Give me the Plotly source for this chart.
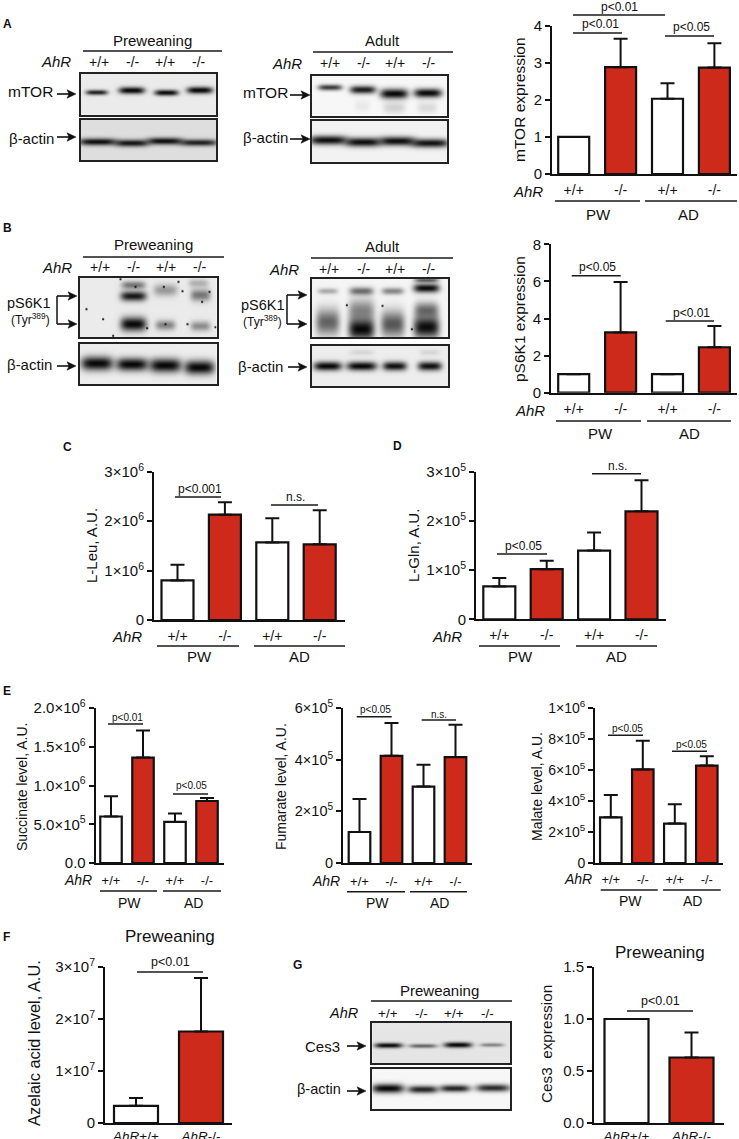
import numpy as np
import plotly.graph_objects as go

W, H = 739, 1139
FONT = "Liberation Sans"
RED = "#CD2A1C"
WHITE = "#FFFFFF"
AHR = ["+/+", "-/-", "+/+", "-/-"]
KO = [WHITE, RED, WHITE, RED]
AZ_LABELS = ["<i>AhR</i>+/+", "<i>AhR</i>-/-"]

# ---------- bar data ----------
mtor_vals = [1.0, 2.88, 2.03, 2.87]
mtor_errs = [0, 0.77, 0.42, 0.66]
ps6k1_vals = [1.0, 3.25, 1.0, 2.45]
ps6k1_errs = [0, 2.72, 0, 1.15]
leu_vals = [0.80e6, 2.13e6, 1.57e6, 1.53e6]
leu_errs = [0.32e6, 0.25e6, 0.49e6, 0.69e6]
gln_vals = [0.67e5, 1.02e5, 1.40e5, 2.20e5]
gln_errs = [0.17e5, 0.17e5, 0.37e5, 0.63e5]
succ_vals = [0.60e6, 1.36e6, 0.53e6, 0.80e6]
succ_errs = [0.26e6, 0.35e6, 0.11e6, 0.04e6]
fum_vals = [1.20e5, 4.15e5, 2.96e5, 4.10e5]
fum_errs = [1.28e5, 1.27e5, 0.84e5, 1.25e5]
mal_vals = [2.95e5, 6.05e5, 2.55e5, 6.30e5]
mal_errs = [1.45e5, 1.85e5, 1.25e5, 0.60e5]
aze_vals = [0.33e7, 1.76e7]
aze_errs = [0.15e7, 1.03e7]
ces_vals = [1.0, 0.63]
ces_errs = [0, 0.24]

fig = go.Figure()
layout = {}
shapes = []
annots = []
axis_n = [0]


def px(x):
    return x / W


def py(y):
    return 1 - y / H


def text(x, y, s, size=15, angle=0, italic=False, bold=False, anchor="center", family=FONT):
    if italic:
        s = f"<i>{s}</i>"
    if bold:
        s = f"<b>{s}</b>"
    annots.append(dict(x=px(x), y=py(y), xref="paper", yref="paper", text=s, showarrow=False,
                       textangle=angle, xanchor=anchor, yanchor="middle",
                       font=dict(family=family, size=size, color="#111111")))


def hline(x0, x1, y, w=1.5, color="#1a1a1a"):
    shapes.append(dict(type="line", xref="paper", yref="paper", x0=px(x0), x1=px(x1), y0=py(y), y1=py(y),
                       line=dict(color=color, width=w)))


def vline(x, y0, y1, w=1.5):
    shapes.append(dict(type="line", xref="paper", yref="paper", x0=px(x), x1=px(x), y0=py(y0), y1=py(y1),
                       line=dict(color="#111111", width=w)))


def arrow(x0, x1, y):
    hline(x0, x1 - 4, y, w=1.6, color="#111111")
    pts = [(x1, y), (x1 - 9, y - 4.2), (x1 - 7, y), (x1 - 9, y + 4.2)]
    path = "M " + " L ".join(f"{px(a):.5f} {py(b):.5f}" for a, b in pts) + " Z"
    shapes.append(dict(type="path", xref="paper", yref="paper", path=path,
                       fillcolor="#111111", line=dict(color="#111111", width=0.5)))


def new_axes():
    axis_n[0] += 1
    n = axis_n[0]
    return ("" if n == 1 else str(n)), n


def bar_chart(vals, errs, colors, xlabels, yvals, ytext, ymax, left, right, y0, ytop, c0, pitch, barw,
              tick_size=15, xt_size=14, xt_len=2, lw=2.2):
    sfx, n = new_axes()
    xs = list(range(len(vals)))
    fig.add_trace(go.Bar(x=xs, y=vals, width=barw / pitch,
                         marker=dict(color=colors, line=dict(color="#111111", width=lw)),
                         error_y=dict(type="data", symmetric=False, array=errs, arrayminus=[0] * len(errs),
                                      color="#111111", thickness=2, width=7),
                         cliponaxis=False, showlegend=False, xaxis=f"x{sfx}", yaxis=f"y{sfx}"))
    layout[f"xaxis{sfx}"] = dict(domain=[px(left), px(right)], anchor=f"y{sfx}",
                                 range=[(left - c0) / pitch, (right - c0) / pitch],
                                 tickmode="array", tickvals=xs, ticktext=xlabels,
                                 ticks="outside", ticklen=xt_len, tickcolor="rgba(0,0,0,0)",
                                 tickfont=dict(family=FONT, size=xt_size, color="#111111"),
                                 showline=True, linecolor="#111111", linewidth=2, showgrid=False, zeroline=False)
    layout[f"yaxis{sfx}"] = dict(domain=[py(y0), py(ytop)], anchor=f"x{sfx}", range=[0, ymax],
                                 tickmode="array", tickvals=yvals, ticktext=ytext,
                                 ticks="outside", ticklen=5, tickwidth=2, tickcolor="#111111",
                                 tickfont=dict(family=FONT, size=tick_size, color="#111111"),
                                 showline=True, linecolor="#111111", linewidth=2, showgrid=False, zeroline=False)


def blot(box, bg, bands):
    left, right, top, bottom = box
    sfx, n = new_axes()
    xg = np.arange(left - 1, right + 2, 1.0)
    yg = np.arange(top - 1, bottom + 2, 1.0)
    X, Y = np.meshgrid(xg, yg)
    Z = np.full(X.shape, float(bg))
    for xc, yc, wx, wy, d in bands:
        Z = Z * (1 - d * np.exp(-np.abs((X - xc) / wx) ** 4) * np.exp(-((Y - yc) / wy) ** 2))
    fig.add_trace(go.Heatmap(x=xg, y=yg, z=Z, zmin=0, zmax=1, showscale=False, hoverinfo="skip",
                             colorscale=[[0, "#000000"], [1, "#FFFFFF"]], xaxis=f"x{sfx}", yaxis=f"y{sfx}"))
    common = dict(showticklabels=False, ticks="", showgrid=False, zeroline=False,
                  showline=True, mirror=True, linecolor="#222222", linewidth=1.5)
    inset = 0.8
    layout[f"xaxis{sfx}"] = dict(domain=[px(left + inset), px(right - inset)], anchor=f"y{sfx}",
                                 range=[left + inset, right - inset], **common)
    layout[f"yaxis{sfx}"] = dict(domain=[py(bottom - inset), py(top + inset)], anchor=f"x{sfx}",
                                 range=[bottom - inset, top + inset], **common)


def specks(points, d=0.9, w=1.1):
    return [(x, y, w, w, d) for x, y in points]


def lane_labels(xs, y, size=14):
    for x, s in zip(xs, AHR):
        text(x, y, s, size=size)


def group_labels(ahr_x, ahr_y, l1, l2, line_y, pw_x, ad_x, lab_y, ahr_size=15, lab_size=15):
    text(ahr_x, ahr_y, "AhR", size=ahr_size, italic=True)
    hline(l1[0], l1[1], line_y)
    hline(l2[0], l2[1], line_y)
    text(pw_x, lab_y, "PW", size=lab_size)
    text(ad_x, lab_y, "AD", size=lab_size)


def pval(x0, x1, y, tx, ty, s, size=12):
    hline(x0, x1, y)
    text(tx, ty, s, size=size)


# ---------- Panel A ----------
text(7, 24, "A", size=12, bold=True)
text(152, 40, "Preweaning", size=15)
hline(83, 222, 51)
text(56, 62, "AhR", size=15, italic=True)
lane_labels([99, 133, 165, 199], 62)
text(30, 91, "mTOR", size=15.5)
arrow(57, 76, 94)
text(31, 138, "β-actin", size=15)
arrow(57, 76, 137)
blot((79.7, 217, 72.7, 115.3), 0.92, [(97, 92.7, 11, 2.6, 0.85), (132, 90.7, 13, 3.5, 0.97),
                                      (166.7, 93, 12, 3, 0.95), (200, 90.5, 13, 3.5, 0.97)])
blot((79.7, 217, 119.3, 160.7), 0.87, [(98, 141.7, 19, 3.6, 0.93), (132, 143, 17, 3.6, 0.9),
                                       (165, 141, 18, 3.6, 0.93), (199, 142.5, 19, 3.4, 0.85)])
text(382, 40, "Adult", size=15)
hline(313, 453, 52)
text(287, 63, "AhR", size=15, italic=True)
lane_labels([330, 364, 395, 429], 63)
text(265, 92, "mTOR", size=15.5)
arrow(290, 310, 95)
text(265, 137, "β-actin", size=15)
arrow(290, 310, 139)
blot((311.3, 447.7, 74.7, 116.3), 0.97, [(330, 87.7, 12, 3, 0.75), (362.7, 90, 13, 4, 0.88),
                                         (394, 94, 14, 5, 0.97), (427.7, 93.3, 14, 4.5, 0.96),
                                         (394, 108, 11, 6, 0.15), (427, 108, 10, 6, 0.12), (362, 106, 8, 6, 0.06)])
blot((311.3, 447.7, 120.3, 162.3), 0.95, [(328, 140, 19, 4.6, 0.94), (363, 142, 18, 4.6, 0.94),
                                          (397, 141, 18, 4.6, 0.94), (430, 143, 19, 4.4, 0.92)])
bar_chart(mtor_vals, mtor_errs, KO, AHR, [0, 1, 2, 3, 4], ["0", "1", "2", "3", "4"], 4,
          552, 737, 174, 25.7, 573.7, 46.9, 31)
text(520, 100, "mTOR expression", size=15.5, angle=-90)
pval(573, 665, 15, 619, 7, "p&lt;0.01")
pval(573, 622, 33, 600, 24, "p&lt;0.01")
pval(665, 714, 36, 691, 27, "p&lt;0.05")
group_labels(528, 192, (555, 640), (645, 737), 201, 598, 688, 214)

# ---------- Panel B ----------
text(7, 228, "B", size=12, bold=True)
text(153, 244, "Preweaning", size=15)
hline(83, 224, 257)
text(57, 267, "AhR", size=15, italic=True)
lane_labels([100, 134, 166, 200], 267)
text(29, 303, "pS6K1", size=14.5)
text(30, 319, "(Tyr<sup>389</sup>)", size=12)
vline(57, 296, 324)
arrow(57, 77, 296)
arrow(57, 77, 324)
text(29, 364, "β-actin", size=15)
arrow(57, 76, 366)
blot((79, 217.3, 277.3, 337.7), 0.92,
     [(133, 296, 13, 5, 0.9), (133, 285, 12, 4, 0.5), (133, 324, 13, 7, 0.97),
      (165, 290, 12, 6, 0.35), (165, 325, 10, 5, 0.45),
      (200, 295, 10, 6, 0.5), (198, 283, 10, 4, 0.25), (200, 326, 10, 5, 0.4)]
     + specks([(112.7, 335.7), (86, 309), (102.7, 319), (120, 279), (163.3, 286.7), (165, 324), (182, 291),
               (178, 281.7), (209, 291.7), (201.7, 301.7), (146.7, 328), (187, 324), (135, 286.7), (215, 327)]))
blot((79, 217.3, 343, 385), 0.93, [(96.7, 364, 16, 7, 0.97), (131.7, 365, 16, 6.5, 0.97),
                                   (165, 366, 16, 7, 0.97), (199, 368, 15, 7, 0.97)])
text(382, 246, "Adult", size=15)
hline(311, 453, 258)
text(284, 269, "AhR", size=15, italic=True)
lane_labels([329, 364, 395, 429], 269)
text(263, 305, "pS6K1", size=14.5)
text(262, 321, "(Tyr<sup>389</sup>)", size=12)
vline(287, 295, 324)
arrow(287, 307, 295)
arrow(287, 307, 324)
text(260, 366, "β-actin", size=15)
arrow(288, 307, 367)
blot((310.7, 449, 278.3, 338), 0.96,
     [(328, 291, 10, 3, 0.3), (361.7, 291, 12, 4, 0.55), (393, 291, 11, 3.5, 0.45), (426.7, 288, 13, 4.5, 0.95),
      (426.7, 280, 12, 2.5, 0.6),
      (328, 322, 12, 13, 0.6), (361.7, 329, 13, 11, 0.97), (361.7, 310, 13, 11, 0.45),
      (393, 324, 12, 13, 0.65), (426.7, 327, 13, 11, 0.95), (426.7, 310, 12, 8, 0.55)]
     + specks([(347, 305), (412, 329), (382.7, 305.7)]))
blot((310.7, 449, 345, 386.7), 0.93, [(328, 366.7, 14, 4.5, 0.97), (362, 366.7, 15, 4.5, 0.97),
                                      (395, 366.7, 12, 4.5, 0.93), (430, 366.7, 12, 4.5, 0.93),
                                      (362, 353, 12, 3, 0.1), (430, 353, 10, 3, 0.1)])
bar_chart(ps6k1_vals, ps6k1_errs, KO, AHR, [0, 2, 4, 6, 8], ["0", "2", "4", "6", "8"], 8,
          551, 737, 392.7, 244.3, 573.7, 46.9, 31)
text(520, 319, "pS6K1 expression", size=15.5, angle=-90)
pval(571.7, 620.7, 275.7, 597, 267, "p&lt;0.05")
pval(665.7, 714, 321, 691, 312.7, "p&lt;0.01")
group_labels(530, 411, (556, 641), (647, 731), 421, 600, 689, 433)

# ---------- Panel C / D ----------
text(67, 447, "C", size=12, bold=True)
bar_chart(leu_vals, leu_errs, KO, AHR, [0, 1e6, 2e6, 3e6],
          ["0", "1×10<sup>6</sup>", "2×10<sup>6</sup>", "3×10<sup>6</sup>"], 3e6,
          154, 345, 620, 471.7, 177.5, 47.4, 32)
text(92, 546, "L-Leu, A.U.", size=15, angle=-90)
pval(175, 221, 497, 200, 489, "p&lt;0.001")
pval(271, 318, 505, 295, 497, "n.s.")
group_labels(127, 636, (157, 239), (254, 345), 646, 199, 299, 657)

text(397, 446, "D", size=12, bold=True)
bar_chart(gln_vals, gln_errs, KO, AHR, [0, 1e5, 2e5, 3e5],
          ["0", "1×10<sup>5</sup>", "2×10<sup>5</sup>", "3×10<sup>5</sup>"], 3e5,
          476, 665.7, 619.3, 472, 499.3, 47.4, 32)
text(413, 545, "L-Gln, A.U.", size=15, angle=-90)
pval(497, 547, 554, 523, 546, "p&lt;0.05")
pval(592, 641, 473.7, 617, 466, "n.s.")
group_labels(447, 636, (479, 560), (576, 657), 646, 520, 616, 656)

# ---------- Panel E ----------
text(7, 691, "E", size=12, bold=True)
bar_chart(succ_vals, succ_errs, KO, AHR, [0, 0.5e6, 1e6, 1.5e6, 2e6],
          ["0.0", "5.0×10<sup>5</sup>", "1.0×10<sup>6</sup>", "1.5×10<sup>6</sup>", "2.0×10<sup>6</sup>"], 2e6,
          95.7, 224, 863, 708, 111, 32, 21.5, xt_size=13, xt_len=4)
text(22, 787, "Succinate level, A.U.", size=14, angle=-90)
pval(108, 143, 724, 127, 717, "p&lt;0.01", size=10)
pval(173, 208, 794, 191, 785, "p&lt;0.05", size=10)
group_labels(78, 880, (100, 157), (163, 221), 891, 129, 193, 903, ahr_size=14, lab_size=14)

bar_chart(fum_vals, fum_errs, KO, AHR, [0, 2e5, 4e5, 6e5],
          ["0", "2×10<sup>5</sup>", "4×10<sup>5</sup>", "6×10<sup>5</sup>"], 6e5,
          343, 472, 863, 708, 359.5, 32, 21.6, tick_size=14.5, xt_size=13, xt_len=5)
text(281, 787, "Fumarate level, A.U.", size=14, angle=-90)
pval(356.7, 391.7, 716.7, 375, 709, "p&lt;0.05", size=10)
pval(421.7, 456, 720, 439, 714, "n.s.", size=10)
group_labels(326, 881, (347, 405), (410, 467), 891.7, 377, 439, 903, ahr_size=14, lab_size=14)

bar_chart(mal_vals, mal_errs, KO, AHR, [0, 2e5, 4e5, 6e5, 8e5, 1e6],
          ["0", "2×10<sup>5</sup>", "4×10<sup>5</sup>", "6×10<sup>5</sup>", "8×10<sup>5</sup>", "1×10<sup>6</sup>"], 1e6,
          595, 722.7, 863, 708.3, 610.8, 32, 21.5, tick_size=14, xt_size=13, xt_len=3)
text(537, 787, "Malate level, A.U.", size=14, angle=-90)
pval(608, 643, 735.3, 627, 728, "p&lt;0.05", size=10)
pval(672, 707, 751.3, 691, 744, "p&lt;0.05", size=10)
group_labels(578, 879, (600.7, 657.7), (663, 720.7), 890, 630, 692, 901, ahr_size=14, lab_size=14)

# ---------- Panel F ----------
text(6, 937, "F", size=12, bold=True)
text(170, 936, "Preweaning", size=17)
bar_chart(aze_vals, aze_errs, [WHITE, RED], AZ_LABELS, [0, 1e7, 2e7, 3e7],
          ["0", "1×10<sup>7</sup>", "2×10<sup>7</sup>", "3×10<sup>7</sup>"], 3e7,
          105, 232, 1123, 967, 136, 65, 44, xt_size=13.5, xt_len=0)
text(34, 1043, "Azelaic acid level, A.U.", size=16.4, angle=-90)
pval(137, 203, 972, 170, 962, "p&lt;0.01", size=12.5)

# ---------- Panel G ----------
text(297, 965, "G", size=12, bold=True)
text(440, 990, "Preweaning", size=15)
hline(371, 512, 1001)
text(344, 1013, "AhR", size=14.5, italic=True)
lane_labels([388, 421, 454, 487], 1013, size=13.5)
text(342, 1046, "Ces3", size=15, anchor="right")
arrow(347, 366, 1046)
text(343, 1089, "β-actin", size=14.5, anchor="right")
arrow(347, 366, 1091)
blot((371.5, 511, 1022, 1064), 0.9, [(388.6, 1045, 14, 2.6, 0.95), (423, 1045.5, 14, 2.1, 0.55),
                                     (458, 1044.5, 14, 2.8, 0.97), (492, 1044.5, 12, 2, 0.42)])
blot((371.5, 511, 1068, 1110), 0.97, [(388, 1088, 16, 4.6, 0.97), (423, 1089, 15, 3.8, 0.85),
                                      (455, 1088, 15, 3.6, 0.85), (493, 1087.5, 17, 3.8, 0.82)])
bar_chart(ces_vals, ces_errs, [WHITE, RED], AZ_LABELS, [0, 0.5, 1.0, 1.5], ["0.0", "0.5", "1.0", "1.5"], 1.5,
          594, 724, 1123, 967, 626.5, 65, 44, xt_size=13.5, xt_len=0)
text(546, 1044, "Ces3\u00a0 expression", size=15.3, angle=-90)
text(660, 952, "Preweaning", size=17)
pval(627, 693, 1011, 660, 1001, "p&lt;0.01", size=12.5)

fig.update_layout(width=W, height=H, autosize=False, margin=dict(l=0, r=0, t=0, b=0, pad=0, autoexpand=False),
                  paper_bgcolor="white", plot_bgcolor="white", showlegend=False,
                  shapes=shapes, annotations=annots, font=dict(family=FONT), **layout)
fig.write_html("out.html", config=dict(displayModeBar=False),
               post_script="document.body.style.margin='0';document.documentElement.style.overflow='hidden';")
